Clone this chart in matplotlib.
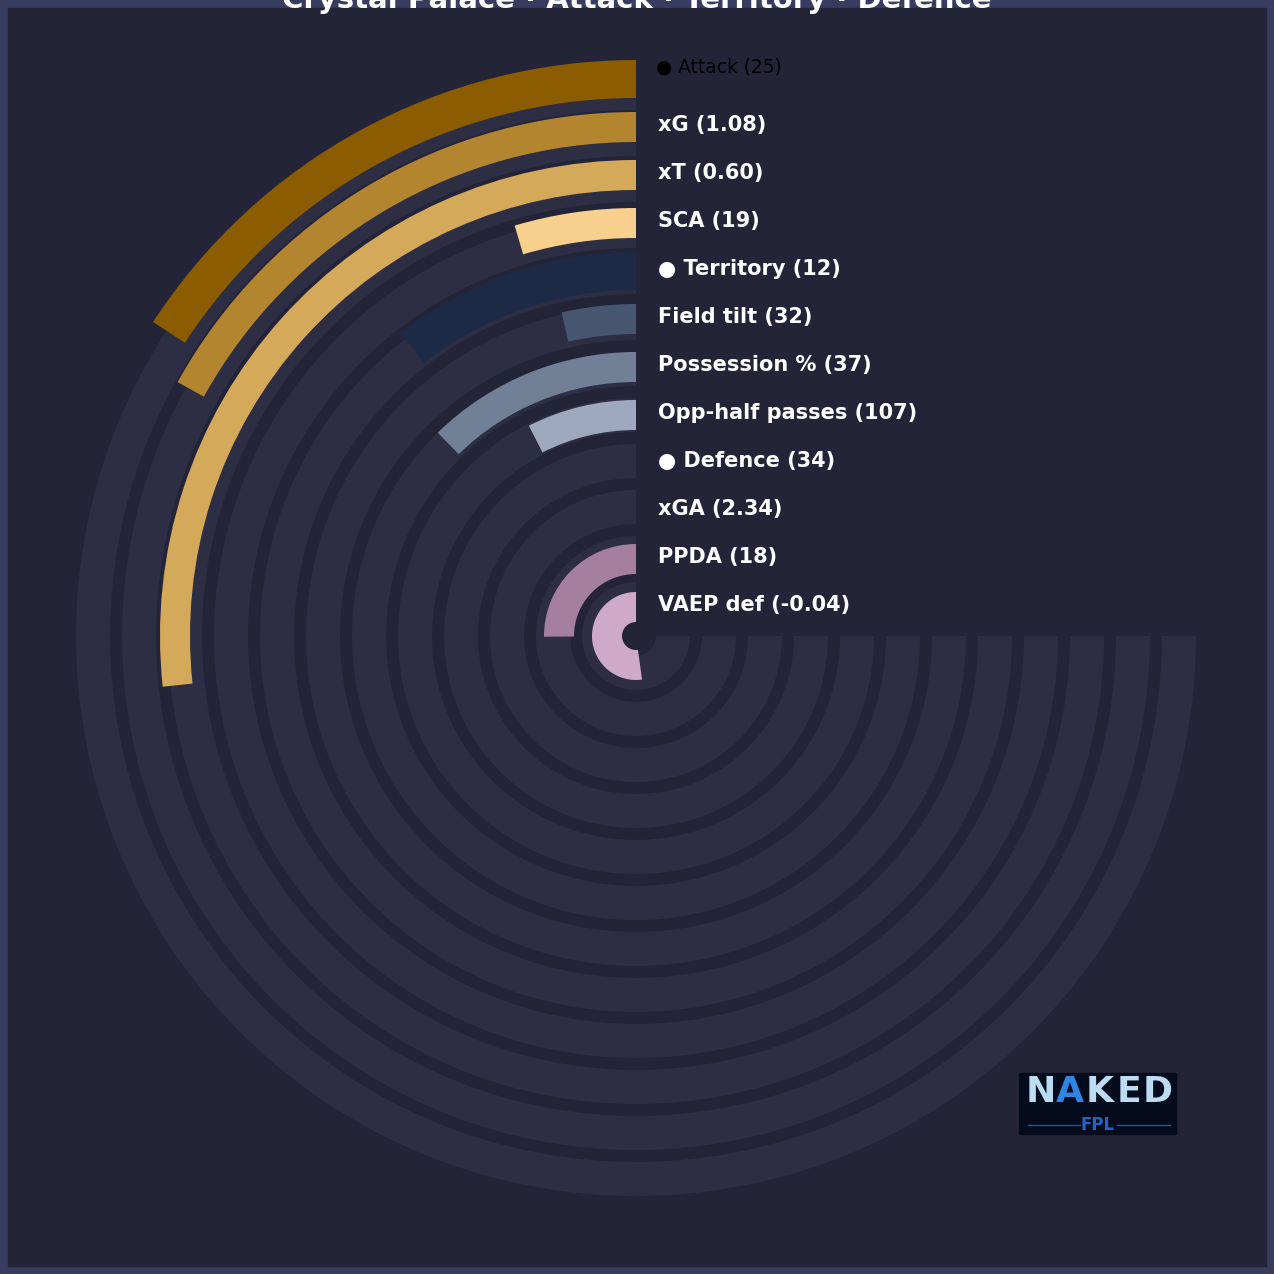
import numpy as np
import matplotlib
matplotlib.use("Agg")
import matplotlib.pyplot as plt
from matplotlib.patches import Rectangle

# rows, outermost first
metrics = ['Attack', 'xG', 'xT', 'SCA',
           'Territory', 'Field tilt', 'Possession %', 'Opp-half passes',
           'Defence', 'xGA', 'PPDA', 'VAEP def']
shown = ['25', '1.08', '0.60', '19', '12', '32', '37', '107', '34', '2.34', '18', '-0.04']
is_group = [True, False, False, False, True, False, False, False, True, False, False, False]
# share of the 270 degree track that each bar fills (0-100)
score = [21.1, 22.6, 35.6, 6.1, 14.0, 4.8, 16.4, 10.0, 0.0, 0.0, 33.5, 69.6]
colors = ['#8b5c00', '#b3852f', '#d4a95a', '#f6d08c',
          '#1c2a45', '#46566f', '#717f97', '#9ea9bf',
          '#3a2f48', '#8a6f88', '#a57f9f', '#cfa9c9']

BG = '#242439'
FRAME = '#383c5e'
TRACK = '#2d2d44'
SPAN = 270.0

fig = plt.figure(figsize=(12.74, 12.74), dpi=100, facecolor=FRAME)
fig.patches.append(Rectangle((8 / 1274, 8 / 1274), 1258 / 1274, 1258 / 1274,
                             transform=fig.transFigure, color=BG, zorder=-10))

rect = [36 / 1274, 38 / 1274, 1200 / 1274, 1200 / 1274]
ax = fig.add_axes(rect, projection='polar')
ax.set_theta_zero_location('N')
ax.set_theta_direction(1)
ax.set_ylim(0, 600)
ax.set_axis_off()
ax.patch.set_alpha(0)

n = len(metrics)
# background tracks
for k in range(n):
    ax.bar(0, 34, width=np.deg2rad(SPAN), bottom=526 - 46 * k, align='edge',
           color=TRACK, linewidth=0, zorder=1)

# value bars
for k in range(n):
    w = 38 if is_group[k] else 30
    sweep = np.deg2rad(score[k] / 100 * SPAN)
    if sweep <= 0:
        continue
    ax.bar(0, w, width=sweep, bottom=557 - 48 * k - w / 2, align='edge',
           color=colors[k], linewidth=0, zorder=2)

# overlay for text, in pixel-like units around the centre
ov = fig.add_axes(rect)
ov.set_xlim(-600, 600)
ov.set_ylim(-600, 600)
ov.set_axis_off()
ov.patch.set_alpha(0)

for k in range(n):
    r = 557 - 48 * k
    if k == 0:
        ov.text(20, r + 12, f'● {metrics[k]} ({shown[k]})', color='black',
                fontsize=13.4, va='center', ha='left')
    elif is_group[k]:
        ov.text(22, r + 2, f'● {metrics[k]} ({shown[k]})', color='white',
                fontsize=15, fontweight='bold', va='center', ha='left')
    else:
        ov.text(22, r + 2, f'{metrics[k]} ({shown[k]})', color='white',
                fontsize=15, fontweight='bold', va='center', ha='left')

# logo
ov.add_patch(Rectangle((383, -498), 157, 61, color='#030b1d', zorder=5))
for letter, lx, lc in zip('NAKED', [405, 434, 464, 493, 522],
                          ['#bcdcf2', '#2f86e0', '#bcdcf2', '#bcdcf2', '#bcdcf2']):
    ov.text(lx, -456, letter, color=lc, fontsize=26, fontweight='bold',
            ha='center', va='center', zorder=6)
ov.text(462, -489, 'FPL', color='#2163c8', fontsize=12, fontweight='bold',
        ha='center', va='center', zorder=6)
ov.plot([392, 444], [-489, -489], color='#1d56a8', lw=1, zorder=6)
ov.plot([481, 534], [-489, -489], color='#1d56a8', lw=1, zorder=6)

fig.text(0.5, 1 - 7.5 / 1274, 'Crystal Palace · Attack · Territory · Defence',
         color='white', fontsize=21, fontweight='bold', ha='center', va='baseline')

fig.savefig('out.png', dpi=100, facecolor=FRAME)
